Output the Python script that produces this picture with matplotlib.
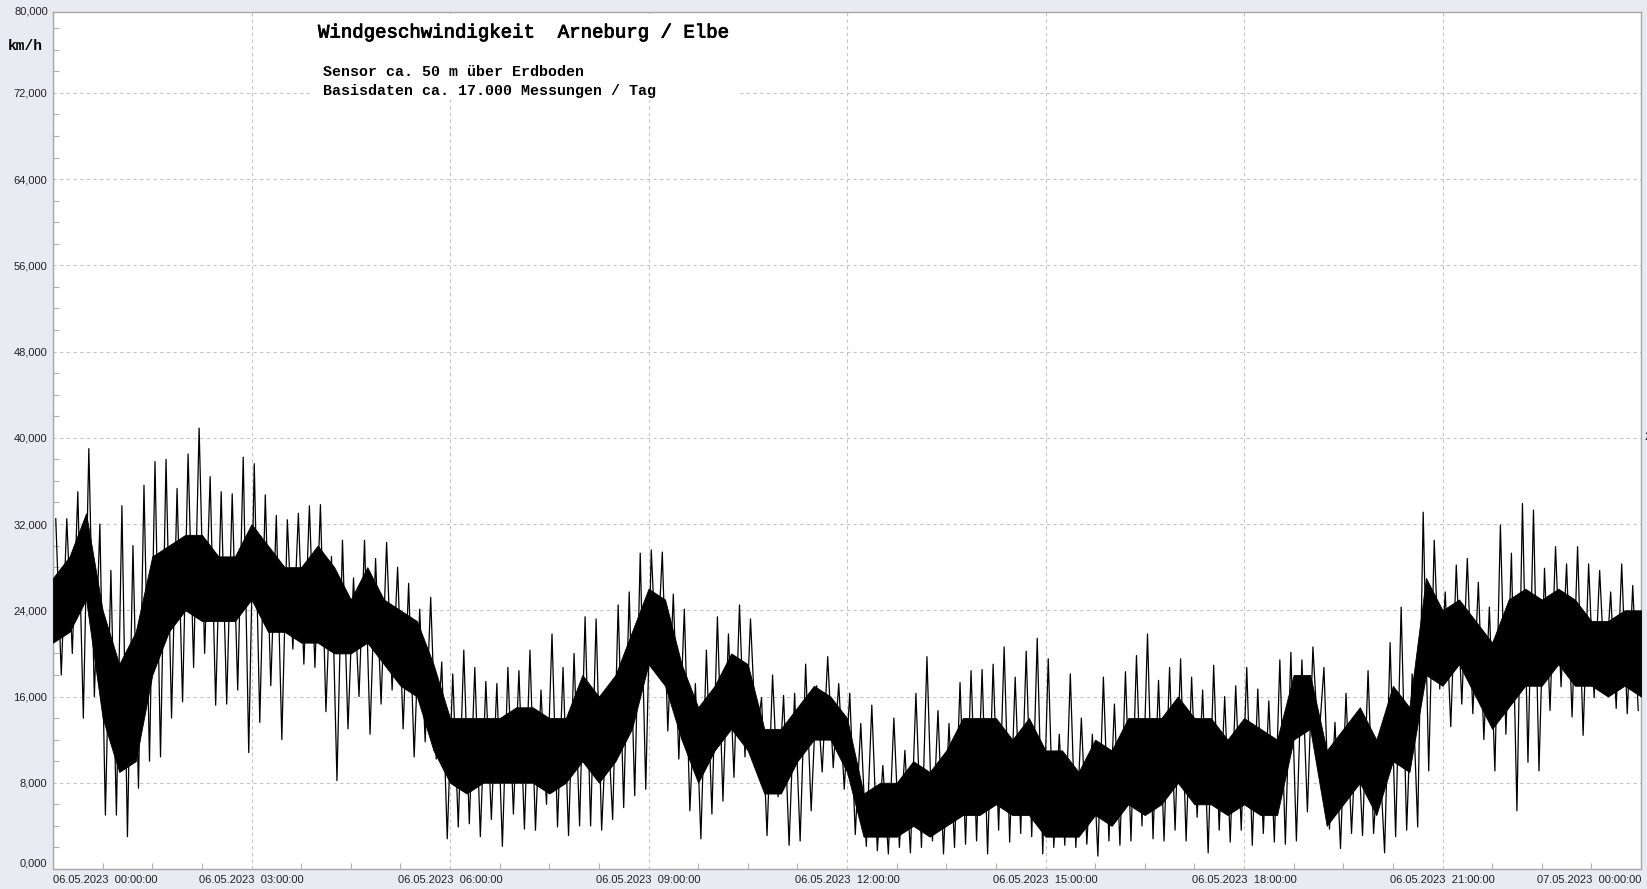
import numpy as np
import pandas as pd
import matplotlib
matplotlib.use("Agg")
import matplotlib.pyplot as plt
import matplotlib.dates as mdates
import matplotlib.patheffects as pe
from matplotlib.patches import Rectangle
from matplotlib.ticker import FixedLocator, FuncFormatter, MultipleLocator

# Windgeschwindigkeit Arneburg 06.05.2023, Werte in km/h (aus dem Bild geschaetzt)
# dichter Kern der Messwerte, alle 15 Minuten
core_lo = [21, 22, 25, 14, 9, 10, 18, 22, 24, 23, 23, 23, 25, 22, 22, 21,
           21, 20, 20, 21, 19, 17, 16, 11, 8, 7, 8, 8, 8, 8, 7, 8,
           10, 8, 10, 13, 19, 17, 12, 8, 11, 13, 11, 7, 7, 10, 12, 12,
           9, 3, 3, 3, 4, 3, 4, 5, 5, 6, 5, 5, 3, 3, 3, 5,
           4, 6, 5, 6, 8, 6, 6, 5, 6, 5, 5, 12, 13, 4, 6, 8,
           5, 10, 9, 18, 17, 19, 16, 13, 15, 17, 17, 19, 17, 17, 16, 17, 16]
core_hi = [27, 29, 33, 24, 19, 22, 29, 30, 31, 31, 29, 29, 32, 30, 28, 28,
           30, 28, 25, 28, 25, 24, 23, 19, 14, 14, 14, 14, 15, 15, 14, 14,
           18, 16, 18, 22, 26, 25, 19, 15, 17, 20, 19, 13, 13, 15, 17, 16,
           14, 7, 8, 8, 10, 9, 11, 14, 14, 14, 12, 14, 11, 11, 9, 12,
           11, 14, 14, 14, 16, 14, 14, 12, 14, 13, 12, 18, 18, 11, 13, 15,
           12, 17, 15, 27, 24, 25, 23, 21, 25, 26, 25, 26, 25, 23, 23, 24, 24]

# Spitzen (max / min) je 10 Minuten
spike_hi = [32.5, 32.5, 35, 39, 32, 27.7, 33.7, 30, 35.6, 37.8, 38, 35.3,
            38.5, 40.9, 36.4, 35, 34.8, 38.2, 37.6, 34.7, 32.8, 32.4, 33, 33.7,
            33.8, 29, 30.5, 27, 30.5, 28.8, 30.3, 28, 26.5, 24.1, 25.2, 19.2,
            18.1, 20.3, 18.7, 17.4, 17.2, 18.7, 18.4, 20.3, 16.6, 21.8, 18.7, 20,
            23.4, 23.2, 15, 24.5, 25.7, 29.3, 29.6, 29.4, 25.5, 24.1, 17.2, 20.3,
            23.4, 21.8, 24.5, 23.2, 15.9, 18, 16.1, 16.3, 19, 17, 19.7, 17.2,
            16.3, 13.5, 15.2, 9.6, 14, 11, 16.3, 19.7, 14.7, 13.5, 17.3, 18.4,
            18.5, 19, 20.6, 17.8, 20.2, 21.4, 19.5, 12.5, 18.1, 14, 12.5, 17.8,
            15.3, 18.3, 19.8, 21.8, 17.5, 18.7, 19.5, 17.8, 16.6, 18.9, 16, 17,
            18.7, 16.7, 15.6, 19.4, 20.1, 19.4, 20.6, 18.7, 13.6, 16.3, 14.5, 18.4,
            11.6, 21, 24.3, 18.1, 33.1, 30.5, 25.7, 28.2, 28.8, 26.6, 24.3, 31.9,
            29.3, 33.9, 33.3, 27.9, 29.9, 28.3, 29.9, 28.3, 27.7, 25.7, 28.3, 26.3]
spike_lo = [18, 20, 14, 16, 5, 5, 3, 7.5, 10, 10.4, 14, 15.5,
            18.7, 20, 15.2, 15.3, 16.6, 10.8, 13.6, 17, 12, 20.4, 19, 18.7,
            14.6, 8.2, 13, 16, 12.5, 15.3, 16.6, 13, 10.4, 11.8, 10.2, 2.8,
            3.9, 4.2, 3, 4.6, 2.1, 5.1, 3.7, 3.6, 6, 3.9, 3.1, 4,
            4, 3.6, 4.6, 5.7, 6.8, 7.4, 18.4, 12.8, 10.2, 5.4, 2.8, 5.1,
            6.3, 8.5, 10.4, 11.8, 3.1, 6.7, 2.2, 2.6, 5.4, 9, 9.4, 7.4,
            3.2, 2.1, 1.7, 1.4, 2, 1.5, 2, 2.6, 1.4, 2, 2.3, 2.6,
            1.4, 3.6, 2.5, 3.3, 3, 1.4, 2, 2.2, 2, 2.3, 1.2, 2.6,
            2.2, 2.6, 4, 2.8, 2.6, 3.6, 2.6, 4.8, 1.5, 3.6, 2.5, 3.6,
            2.2, 3.3, 2.5, 2.3, 2.6, 5.3, 11.3, 3.7, 1.9, 3.3, 3.1, 3.3,
            1.5, 3, 3.6, 3.9, 9.1, 16.7, 13.2, 15.3, 14.4, 12, 9.1, 12.5,
            5.4, 9.9, 9.1, 14.7, 16.9, 14.1, 12.4, 15.9, 17.2, 14.9, 14.4, 14.7]

y_ticks = [0, 8, 16, 24, 32, 40, 48, 56, 64, 72]
title = "Windgeschwindigkeit  Arneburg / Elbe"
line1 = "Sensor ca. 50 m über Erdboden"
line2 = "Basisdaten ca. 17.000 Messungen / Tag"

t_core = pd.date_range("2023-05-06 00:00", periods=len(core_lo), freq="15min")
t_spike = pd.date_range("2023-05-06 00:02:30", periods=2 * len(spike_hi), freq="5min")
spikes = np.empty(2 * len(spike_hi))
spikes[0::2] = spike_hi
spikes[1::2] = spike_lo

bg = "#e8ebf2"
fig = plt.figure(figsize=(16.47, 8.89), dpi=100, facecolor=bg)
ax = fig.add_axes([53 / 1647, 1 - 869 / 889, 1588 / 1647, 857 / 889])
ax.set_facecolor("white")

# Kern als Flaeche, Spitzen als Linie
ax.fill_between(t_core, core_lo, core_hi, color="black", lw=0.6, zorder=3)
ax.plot(t_spike, spikes, color="black", lw=0.9, zorder=4)

ax.set_xlim(pd.Timestamp("2023-05-06 00:00"), pd.Timestamp("2023-05-07 00:00"))
ax.set_ylim(0, 79.5)

# Achsen und Raster
ax.xaxis.set_major_locator(mdates.HourLocator(byhour=range(0, 24, 3)))
ax.xaxis.set_minor_locator(FixedLocator(mdates.date2num(
    pd.date_range("2023-05-06 00:00", "2023-05-07 00:00", freq="45min"))))
ax.xaxis.set_major_formatter(mdates.DateFormatter("%d.%m.%Y  %H:%M:%S"))
ax.yaxis.set_major_locator(FixedLocator(y_ticks))
ax.yaxis.set_minor_locator(MultipleLocator(2))
ax.yaxis.set_major_formatter(FuncFormatter(lambda v, p: f"{v:.3f}".replace(".", ",")))

ax.grid(True, which="major", color="#c4c4c4", linestyle=(0, (3, 3)), lw=0.8, zorder=1)
ax.tick_params(which="major", length=0, pad=4, labelsize=8, labelcolor="#222222")
ax.tick_params(which="minor", direction="in", length=4, color="#b0b0b0", width=0.8)
for lab in ax.get_xticklabels() + ax.get_yticklabels():
    lab.set_family("Liberation Sans")
for s in ax.spines.values():
    s.set_color("#a8a8a8")
    s.set_linewidth(1)

fig.canvas.draw()
xt = ax.xaxis.get_major_ticks()
xt[0].label1.set_horizontalalignment("left")
xt[-1].label1.set_horizontalalignment("right")
ax.yaxis.get_major_ticks()[0].label1.set_verticalalignment("bottom")

# 80,000 oben am Rand
ax.text(-0.003, 1.0, "80,000", transform=ax.transAxes, ha="right", va="center",
        fontsize=8, color="#222222", family="Liberation Sans")
fig.text(1644 / 1647, 1 - 437 / 889, "2", ha="left", va="center",
         fontsize=8, color="#222222", family="Liberation Sans")

# weisser Kasten hinter dem Titel
ax.add_patch(Rectangle((257 / 1588, (869 - 100) / 857), 430 / 1588, 86 / 857,
                       transform=ax.transAxes, facecolor="white", edgecolor="none", zorder=2))
ax.text(265 / 1588, (869 - 33) / 857, title, transform=ax.transAxes, ha="left", va="center",
        fontsize=13.7, family="Liberation Mono", color="black", zorder=5,
        path_effects=[pe.withStroke(linewidth=0.6, foreground="black")])
ax.text(270 / 1588, (869 - 72) / 857, line1, transform=ax.transAxes, ha="left", va="center",
        fontsize=10.8, family="Liberation Mono", weight="bold", color="black", zorder=5)
ax.text(270 / 1588, (869 - 91) / 857, line2, transform=ax.transAxes, ha="left", va="center",
        fontsize=10.8, family="Liberation Mono", weight="bold", color="black", zorder=5)

fig.text(8 / 1647, 1 - 46 / 889, "km/h", ha="left", va="center", fontsize=10.5,
         family="Liberation Mono", weight="bold", color="black")

fig.savefig("out.png", dpi=100, facecolor=bg)
